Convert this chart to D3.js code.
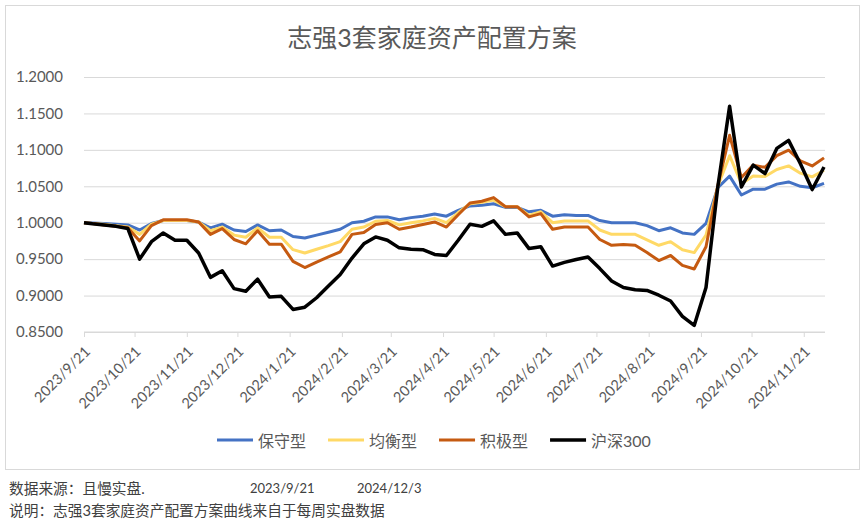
<!DOCTYPE html>
<html>
<head>
<meta charset="utf-8">
<script src="https://cdn.jsdelivr.net/npm/d3@7"></script>
<style>
  html, body { margin: 0; padding: 0; background: #fff; }
  svg { display: block; }
  text { font-family: "Lato", "Noto Sans CJK SC", sans-serif; }
</style>
</head>
<body>
<svg id="chart" width="865" height="521"></svg>
<script>
// ---------- data ----------
const title = "志强3套家庭资产配置方案";
const seriesNames = ["保守型", "均衡型", "积极型", "沪深300"];
const dates = [
  "2023-09-21","2023-09-26","2023-10-03","2023-10-10","2023-10-17","2023-10-24","2023-10-31",
  "2023-11-07","2023-11-14","2023-11-21","2023-11-28","2023-12-05","2023-12-12","2023-12-19",
  "2023-12-26","2024-01-02","2024-01-09","2024-01-16","2024-01-23","2024-01-30","2024-02-06",
  "2024-02-13","2024-02-20","2024-02-27","2024-03-05","2024-03-12","2024-03-19","2024-03-26",
  "2024-04-02","2024-04-09","2024-04-16","2024-04-23","2024-04-30","2024-05-07","2024-05-14",
  "2024-05-21","2024-05-28","2024-06-04","2024-06-11","2024-06-18","2024-06-25","2024-07-02",
  "2024-07-09","2024-07-16","2024-07-23","2024-07-30","2024-08-06","2024-08-13","2024-08-20",
  "2024-08-27","2024-09-03","2024-09-10","2024-09-17","2024-09-24","2024-10-01","2024-10-08",
  "2024-10-15","2024-10-22","2024-10-29","2024-11-05","2024-11-12","2024-11-19","2024-11-26",
  "2024-12-03"
];
const conservative = [
  1.000,0.9995,0.999,0.998,0.997,0.990,0.999,1.003,1.003,1.003,1.001,0.993,0.998,0.990,
  0.988,0.997,0.989,0.990,0.981,0.979,0.983,0.987,0.991,1.000,1.002,1.008,1.008,1.004,
  1.007,1.009,1.012,1.009,1.017,1.023,1.024,1.026,1.021,1.021,1.015,1.017,1.009,1.011,
  1.010,1.010,1.003,1.000,1.000,1.000,0.996,0.989,0.993,0.986,0.984,0.999,1.048,1.064,
  1.038,1.046,1.046,1.053,1.056,1.050,1.048,1.054
];
const balanced = [
  1.000,0.999,0.998,0.996,0.994,0.984,0.998,1.003,1.003,1.003,1.001,0.989,0.994,0.983,
  0.980,0.993,0.980,0.980,0.963,0.9585,0.9635,0.9685,0.974,0.991,0.994,1.002,1.003,0.997,
  1.000,1.0025,1.006,1.000,1.014,1.026,1.028,1.031,1.022,1.022,1.010,1.015,1.000,1.0025,
  1.0025,1.0025,0.990,0.984,0.984,0.984,0.9765,0.969,0.974,0.963,0.959,0.983,1.050,1.092,
  1.0535,1.064,1.0635,1.073,1.078,1.068,1.063,1.072
];
const aggressive = [
  1.000,0.999,0.997,0.995,0.993,0.975,0.996,1.004,1.004,1.004,1.001,0.984,0.992,0.977,
  0.971,0.989,0.9705,0.9705,0.947,0.9385,0.946,0.953,0.960,0.984,0.9865,0.9975,1.000,0.991,
  0.994,0.9975,1.001,0.994,1.011,1.027,1.0295,1.0345,1.022,1.022,1.008,1.0125,0.991,0.994,
  0.994,0.994,0.977,0.969,0.970,0.969,0.959,0.948,0.955,0.9415,0.9365,0.967,1.051,1.120,
  1.062,1.079,1.076,1.092,1.0995,1.085,1.078,1.089
];
const csi300 = [
  1.000,0.9985,0.997,0.995,0.992,0.950,0.974,0.986,0.976,0.976,0.9585,0.925,0.934,0.9095,
  0.906,0.9225,0.898,0.899,0.881,0.884,0.897,0.913,0.929,0.9515,0.971,0.9805,0.976,0.9655,
  0.9635,0.963,0.9565,0.955,0.976,0.998,0.995,1.0025,0.984,0.986,0.9645,0.967,0.9405,0.9455,
  0.9495,0.953,0.937,0.920,0.911,0.908,0.907,0.9005,0.8925,0.8715,0.859,0.911,1.049,1.160,
  1.049,1.079,1.0675,1.102,1.113,1.081,1.0455,1.0765
];
const yTicks = [0.85, 0.90, 0.95, 1.00, 1.05, 1.10, 1.15, 1.20];
const xTickLabels = ["2023/9/21","2023/10/21","2023/11/21","2023/12/21","2024/1/21","2024/2/21",
  "2024/3/21","2024/4/21","2024/5/21","2024/6/21","2024/7/21","2024/8/21","2024/9/21",
  "2024/10/21","2024/11/21"];
const footerSource = "数据来源：且慢实盘.";
const footerStart = "2023/9/21";
const footerEnd = "2024/12/3";
const footerNote = "说明：志强3套家庭资产配置方案曲线来自于每周实盘数据";

// ---------- styles ----------
const colors = ["#4472C4", "#FFD966", "#C55A11", "#000000"];
const widths = [3, 3, 3, 3.5];
const seriesValues = [conservative, balanced, aggressive, csi300];

// ---------- drawing ----------
const svg = d3.select("#chart");
const parse = d3.timeParse("%Y-%m-%d");
const parseTick = d3.timeParse("%Y/%m/%d");
const dateObjs = dates.map(parse);

const plot = { left: 84, right: 824, top: 77, bottom: 332 };
const x = d3.scaleTime()
  .domain([dateObjs[0], dateObjs[dateObjs.length - 1]])
  .range([plot.left, plot.right]);
const y = d3.scaleLinear().domain([0.85, 1.2]).range([plot.bottom, plot.top]);

// outer border
svg.append("rect").attr("x", 5.5).attr("y", 5.5).attr("width", 854).attr("height", 464)
  .attr("fill", "#fff").attr("stroke", "#D9D9D9").attr("stroke-width", 1);

// title
svg.append("text").attr("x", 432).attr("y", 37).attr("text-anchor", "middle")
  .attr("dominant-baseline", "central").attr("fill", "#595959")
  .style("font-size", "25px").text(title);

// gridlines
const yAxis = d3.axisLeft(y).tickValues(yTicks).tickFormat(d3.format(".4f"))
  .tickSize(-(plot.right + 1 - plot.left)).tickPadding(21);
const gy = svg.append("g").attr("transform", `translate(${plot.left},0)`).call(yAxis);
gy.select(".domain").remove();
gy.selectAll(".tick line").attr("stroke", "#D9D9D9").attr("stroke-width", 1);
gy.selectAll(".tick text").attr("fill", "#595959").style("font-size", "15px");

// x axis
const xAxis = d3.axisBottom(x).tickValues(xTickLabels.map(parseTick))
  .tickFormat((d, i) => xTickLabels[i]).tickSizeInner(5).tickSizeOuter(0);
const gx = svg.append("g").attr("transform", `translate(0,${plot.bottom})`).call(xAxis);
gx.select(".domain").attr("stroke", "#D9D9D9").attr("d", `M${plot.left},0H${plot.right + 1}`);
gx.selectAll(".tick line").attr("stroke", "#D9D9D9");
gx.selectAll(".tick text")
  .attr("fill", "#595959").style("font-size", "14.5px")
  .attr("text-anchor", "end")
  .attr("transform", "translate(3,17) rotate(-45)")
  .attr("dy", "0.35em").attr("y", 0).attr("x", 0);

// lines
const line = d3.line().x((d, i) => x(dateObjs[i])).y(d => y(d));
seriesValues.forEach((vals, s) => {
  svg.append("path").datum(vals).attr("d", line)
    .attr("fill", "none").attr("stroke", colors[s]).attr("stroke-width", widths[s])
    .attr("stroke-linejoin", "round").attr("stroke-linecap", "butt");
});

// legend
let lx = 217;
const ly = 440;
seriesNames.forEach((name, s) => {
  const g = svg.append("g");
  g.append("line").attr("x1", lx).attr("x2", lx + 36).attr("y1", ly).attr("y2", ly)
    .attr("stroke", colors[s]).attr("stroke-width", widths[s]);
  const t = g.append("text").attr("x", lx + 41).attr("y", ly)
    .attr("dominant-baseline", "central").attr("fill", "#595959")
    .style("font-size", "16px").text(name);
  lx += 41 + t.node().getComputedTextLength() + 22;
});

// footer
const foot = svg.append("g").attr("fill", "#404040");
foot.append("text").attr("x", 9).attr("y", 488).attr("dominant-baseline", "central")
  .style("font-size", "14.7px").text(footerSource);
foot.append("text").attr("x", 250).attr("y", 488).attr("dominant-baseline", "central")
  .style("font-size", "13px").text(footerStart);
foot.append("text").attr("x", 357).attr("y", 488).attr("dominant-baseline", "central")
  .style("font-size", "13px").text(footerEnd);
foot.append("text").attr("x", 9).attr("y", 510).attr("dominant-baseline", "central")
  .style("font-size", "14.7px").text(footerNote);
</script>
</body>
</html>
